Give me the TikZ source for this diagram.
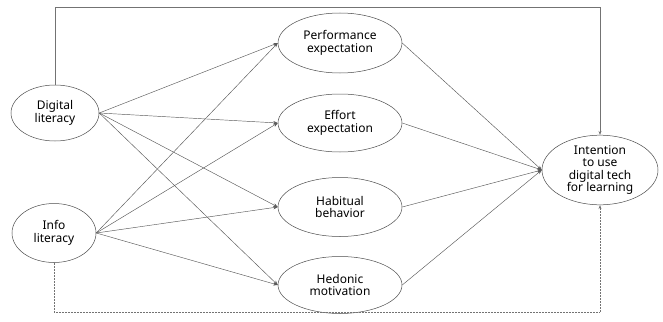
\documentclass[tikz,border=0pt]{standalone}
\usepackage{fontspec}
\setmainfont{Noto Sans}
\usepackage{tikz}
\usetikzlibrary{shapes,arrows,positioning,calc,arrows.meta}

\tikzset{
    construct/.style={draw=black!70, line width=0.5pt, ellipse, inner sep=0pt, align=center,
        font=\fontsize{12}{12.5}\selectfont},
    path/.style={draw=black!65, line width=0.45pt, -{Stealth[length=4.5pt,width=3.5pt]}},
    control/.style={draw=black!55, line width=0.5pt, -{Stealth[length=4pt,width=3pt]}}
}

\begin{document}
\begin{tikzpicture}[x=1pt, y=-1pt]
    \useasboundingbox (0, 0) rectangle (663, 321);

    % Antecedents
    \node [construct, minimum width=88, minimum height=56] (dig) at (55, 113) {Digital\\literacy};
    \node [construct, minimum width=84, minimum height=59] (info) at (54, 233) {Info\\literacy};

    % Mediators
    \node [construct, minimum width=124, minimum height=60] (perf) at (340, 43) {Performance\\expectation};
    \node [construct, minimum width=124, minimum height=58] (effort) at (340, 123) {Effort\\expectation};
    \node [construct, minimum width=124, minimum height=59] (habit) at (340, 207) {Habitual\\behavior};
    \node [construct, minimum width=124, minimum height=57] (hedon) at (340, 285) {Hedonic\\motivation};

    % Outcome
    \node [construct, minimum width=116, minimum height=65] (intent) at (600, 170) {Intention\\to use\\digital tech\\for learning};

    % Paths from the antecedents
    \foreach \med in {perf, effort, habit, hedon} {
        \draw [path] (dig.east) -- (\med.west);
        \draw [path] (info.east) -- (\med.west);
        \draw [path] (\med.east) -- (intent.west);
    }

    % Direct paths round the outside
    \coordinate (topline) at (600, 7);
    \coordinate (botline) at (600, 312);
    \draw [control] (dig.north) |- (topline) -- (intent.north);
    \draw [control, densely dotted] (info.south) |- (botline) -- (intent.south);
\end{tikzpicture}
\end{document}
